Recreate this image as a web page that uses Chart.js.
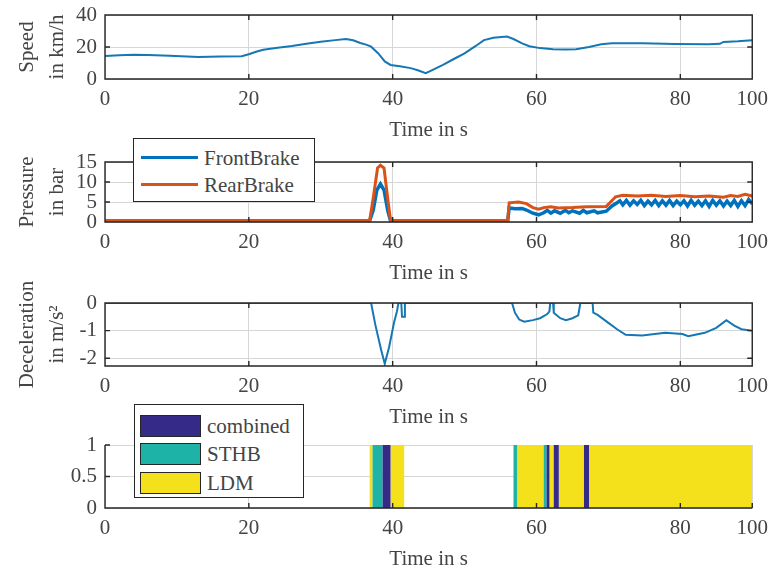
<!DOCTYPE html>
<html>
<head>
<meta charset="utf-8">
<script src="https://cdn.jsdelivr.net/npm/chart.js@4.4.1/dist/chart.umd.min.js"></script>
<style>
  body { margin: 0; background: #fff; width: 776px; height: 574px; position: relative; overflow: hidden; font-family: 'Liberation Serif', serif; }
  canvas { position: absolute; left: 0; }
  .legend { position: absolute; background: #fff; border: 1px solid #262626; box-sizing: border-box; font-size: 21px; color: #444; z-index: 5; }
  .legend .row { position: absolute; left: 0; height: 26px; line-height: 26px; white-space: nowrap; }
  .legend .line { position: absolute; top: 11px; height: 3px; }
  .legend .swatch { position: absolute; top: 2px; height: 22px; box-sizing: border-box; border: 1.5px solid #262626; }
  .legend .txt { position: absolute; top: 0; }
</style>
</head>
<body>
<canvas id="speedChart"></canvas>
<canvas id="pressureChart"></canvas>
<canvas id="decelChart"></canvas>
<canvas id="modeChart"></canvas>
<div id="pressureLegend" class="legend"></div>
<div id="modeLegend" class="legend"></div>
<script>
// time axis (plot ends at the tick labelled 100)
const timeTicks = [0, 20, 40, 60, 80, 90];
const timeTickLabels = ['0', '20', '40', '60', '80', '100'];

// speed in km/h
const speedTime = [0, 2, 4, 6, 9, 13, 16, 19, 20, 21, 22, 24, 26, 28, 30, 32, 33.5, 34.5, 35.5, 36.3, 37, 38, 38.9, 39.7, 41, 42.5, 43.5, 44.6, 45.5, 47, 48.5, 50, 51.5, 52.7, 54, 55.9, 56.8, 58, 59, 60.5, 62.3, 64, 65.5, 67.3, 69, 70.5, 74.7, 79.3, 83.9, 85.5, 86, 88, 90];
const speedValues = [14.3, 14.8, 15.2, 15, 14.6, 13.8, 14, 14.2, 15.5, 17, 18.3, 19.5, 20.6, 22, 23.3, 24.3, 25, 24.2, 22.5, 21.5, 20.2, 16, 11, 8.8, 8, 6.8, 5.5, 3.6, 5.5, 8.8, 12.5, 16, 20.5, 24.3, 25.8, 26.5, 25, 22.3, 20.5, 19.3, 18.6, 18.4, 18.6, 20, 21.7, 22.4, 22.3, 21.8, 21.7, 22, 23.2, 23.6, 24.2];

// brake pressure in bar
const pressureLabels = ['FrontBrake', 'RearBrake'];
const frontTime = [0, 36.8, 37.3, 37.8, 38.3, 38.8, 39.3, 39.7, 56, 56.2, 57, 58, 58.6, 59.5, 60.3, 61, 61.5, 62, 62.5, 63.3, 64, 64.5, 65, 66, 66.5, 67, 68, 68.5, 69.7, 70.5, 71.2, 71.6, 72, 72.5, 73, 73.5, 74, 74.5, 75, 75.5, 76, 76.5, 77, 77.5, 78, 78.5, 79, 79.5, 80, 80.5, 81, 81.5, 82, 82.5, 83, 83.5, 84, 84.5, 85, 85.5, 86, 86.5, 87, 87.5, 88, 88.5, 89, 89.5, 90];
const frontValues = [0.3, 0.3, 3, 8, 9.5, 8, 3, 0.3, 0.3, 3.5, 3.3, 3.4, 3, 2.2, 1.8, 2.3, 2.9, 2.2, 2.8, 2.2, 2.9, 2.3, 2.8, 2.2, 2.9, 2.3, 2.8, 2.3, 2.7, 4, 4.8, 5.3, 4.3, 5.4, 4.2, 5.3, 4.4, 5.4, 4.1, 5.2, 4.3, 5.4, 4.1, 5.3, 4.2, 5.4, 4.1, 5.2, 4.3, 5.3, 4, 5.4, 4.2, 5.2, 4.1, 5.3, 3.9, 5.4, 4.2, 5.3, 4, 5.2, 4.1, 5.4, 3.9, 5.3, 4.1, 5.6, 4.5];
const rearTime = [0, 36.8, 37.3, 37.9, 38.3, 38.8, 39.3, 39.7, 56, 56.2, 57.5, 58.6, 59.5, 60.3, 61, 62, 63, 65, 67, 69.7, 70.3, 71, 72, 74, 76, 78, 80, 82, 84, 86, 87, 88, 89, 90];
const rearValues = [0.4, 0.4, 6, 13.5, 14.2, 13.5, 6, 0.4, 0.4, 4.8, 5, 4.6, 3.6, 3.2, 3.6, 3.8, 3.5, 3.6, 3.8, 3.9, 5, 6.3, 6.7, 6.5, 6.7, 6.4, 6.6, 6.3, 6.5, 6.2, 6.6, 6.4, 6.9, 6.5];

// deceleration in m/s^2
const decelTime = [0, 37, 37.6, 38.4, 38.9, 39.5, 40.2, 40.6, 40.8, 41.2, 41.3, 41.6, 41.7, 56.6, 57, 57.6, 58.3, 59.5, 60.5, 61.5, 61.8, 61.9, 62.3, 62.4, 63.3, 64.1, 65, 65.8, 66.1, 67.8, 67.9, 68.5, 70, 71.2, 72.4, 74.7, 77.9, 80.3, 81.1, 83.4, 85, 86.4, 87.5, 88.5, 90];
const decelValues = [0, 0, -0.8, -1.7, -2.2, -1.6, -0.7, -0.3, 0, 0, -0.5, -0.5, 0, 0, -0.35, -0.6, -0.68, -0.62, -0.55, -0.4, -0.3, 0, 0, -0.35, -0.55, -0.62, -0.55, -0.45, 0, 0, -0.35, -0.43, -0.72, -0.95, -1.15, -1.18, -1.08, -1.12, -1.2, -1.08, -0.9, -0.62, -0.82, -0.95, -1.0];

// active mode intervals [start, end] in s
const modeLabels = ['combined', 'STHB', 'LDM'];
const combinedIntervals = [[38.6, 39.7], [61.4, 61.8], [62.4, 63.1], [66.6, 67.3]];
const sthbIntervals = [[37.2, 38.6], [56.8, 57.3], [61.0, 61.4]];
const ldmIntervals = [[36.8, 37.2], [39.7, 41.6], [57.3, 61.0], [61.8, 62.4], [63.1, 66.6], [67.3, 90]];

const speedTicks = [0, 20, 40];
const pressureTicks = [0, 5, 10, 15];
const decelTicks = [-2, -1, 0];
const modeTicks = [0, 0.5, 1];

const lineBlue = '#1577b3';
const frontColor = '#0072BD';
const rearColor = '#D95319';
const modeColors = ['#352A87', '#1DB3A6', '#F4E11B'];
const textColor = '#444444';
const gridColor = '#d6d6d6';
const axisFont = { family: "'Liberation Serif', serif", size: 21 };

const toPoints = (xs, ys) => xs.map((x, i) => ({ x: x, y: ys[i] }));
const toSteps = intervals => {
  const pts = [{ x: 0, y: 0 }];
  intervals.forEach(([s, e]) => { pts.push({ x: s, y: 1 }); pts.push({ x: e, y: 0 }); });
  pts.push({ x: 90, y: 0 });
  return pts;
};

// MATLAB-like box with inward ticks
const matlabBox = {
  id: 'matlabBox',
  afterDraw(chart, args, opts) {
    const { ctx, chartArea: a, scales } = chart;
    ctx.save();
    ctx.strokeStyle = '#262626';
    ctx.lineWidth = 1.4;
    ctx.beginPath();
    if (opts.full) {
      ctx.rect(a.left, a.top, a.width, a.height);
    } else {
      ctx.moveTo(a.left, a.top);
      ctx.lineTo(a.left, a.bottom);
      ctx.lineTo(a.right, a.bottom);
    }
    scales.x.ticks.forEach(t => {
      const px = scales.x.getPixelForValue(t.value);
      ctx.moveTo(px, a.bottom); ctx.lineTo(px, a.bottom - 5);
      if (opts.full) { ctx.moveTo(px, a.top); ctx.lineTo(px, a.top + 5); }
    });
    scales.y.ticks.forEach(t => {
      const py = scales.y.getPixelForValue(t.value);
      ctx.moveTo(a.left, py); ctx.lineTo(a.left + 5, py);
      if (opts.full) { ctx.moveTo(a.right, py); ctx.lineTo(a.right - 5, py); }
    });
    ctx.stroke();
    ctx.restore();
  }
};

function timeAxis(z) {
  return {
    type: 'linear', min: 0, max: 90, z: z,
    afterBuildTicks: s => { s.ticks = timeTicks.map(v => ({ value: v })); },
    afterFit: s => { s.height = 64; },
    grid: { color: gridColor, drawTicks: false },
    border: { display: false },
    ticks: { padding: 8, color: textColor, font: axisFont, maxRotation: 0, autoSkip: false,
             callback: (v, i) => timeTickLabels[i] },
    title: { display: true, text: 'Time in s', color: textColor, font: axisFont, padding: { top: 0, bottom: 0 } }
  };
}

function valueAxis(min, max, ticks, title, z) {
  return {
    min: min, max: max, z: z,
    afterBuildTicks: s => { s.ticks = ticks.map(v => ({ value: v })); },
    afterFit: s => { s.width = 105; },
    grid: { color: gridColor, drawTicks: false },
    border: { display: false },
    ticks: { padding: 8, color: textColor, font: axisFont, autoSkip: false, callback: v => String(v) },
    title: { display: !!title, text: title || '', color: textColor,
             font: Object.assign({}, axisFont, { lineHeight: 1.43 }), padding: { top: 12, bottom: 0 } }
  };
}

function makePanel(id, plotTop, plotBottom, datasets, yAxis, full, z) {
  const cv = document.getElementById(id);
  const h = plotBottom - plotTop + 40 + 64;
  cv.width = 776; cv.height = h;
  cv.style.top = (plotTop - 40) + 'px';
  cv.style.width = '776px'; cv.style.height = h + 'px';
  return new Chart(cv, {
    type: 'line',
    data: { datasets: datasets },
    options: {
      responsive: false,
      animation: false,
      layout: { padding: { top: 40, left: 0, right: 21, bottom: 0 } },
      elements: { point: { radius: 0 }, line: { tension: 0 } },
      plugins: { legend: { display: false }, tooltip: { enabled: false }, matlabBox: { full: full } },
      scales: { x: timeAxis(z), y: yAxis }
    },
    plugins: [matlabBox]
  });
}

makePanel('speedChart', 15, 79, [
  { data: toPoints(speedTime, speedValues), borderColor: lineBlue, borderWidth: 2 }
], valueAxis(0, 40, speedTicks, ['Speed', 'in km/h'], 0), true, 0);

makePanel('pressureChart', 162, 222, [
  { label: pressureLabels[0], data: toPoints(frontTime, frontValues), borderColor: frontColor, borderWidth: 3.5, order: 2 },
  { label: pressureLabels[1], data: toPoints(rearTime, rearValues), borderColor: rearColor, borderWidth: 3, order: 1 }
], valueAxis(0, 15, pressureTicks, ['Pressure', 'in bar'], 0), true, 0);

makePanel('decelChart', 303, 366, [
  { data: toPoints(decelTime, decelValues), borderColor: lineBlue, borderWidth: 2 }
], valueAxis(-2.28, 0, decelTicks, ['Deceleration', 'in m/s²'], 0), true, 0);

makePanel('modeChart', 445, 508, [
  { label: modeLabels[0], data: toSteps(combinedIntervals), stepped: true, fill: 'origin', borderWidth: 0, backgroundColor: modeColors[0], borderColor: modeColors[0] },
  { label: modeLabels[1], data: toSteps(sthbIntervals), stepped: true, fill: 'origin', borderWidth: 0, backgroundColor: modeColors[1], borderColor: modeColors[1] },
  { label: modeLabels[2], data: toSteps(ldmIntervals), stepped: true, fill: 'origin', borderWidth: 0, backgroundColor: modeColors[2], borderColor: modeColors[2] }
], valueAxis(0, 1, modeTicks, null, 1), false, 1);

// legends
function buildLegend(el, box, labels, colors, kind, rowTops) {
  el.style.left = box[0] + 'px'; el.style.top = box[1] + 'px';
  el.style.width = box[2] + 'px'; el.style.height = box[3] + 'px';
  labels.forEach((lab, i) => {
    const row = document.createElement('div');
    row.className = 'row';
    row.style.top = rowTops[i] + 'px';
    row.style.width = box[2] + 'px';
    const mark = document.createElement('div');
    if (kind === 'line') {
      mark.className = 'line'; mark.style.left = '7px'; mark.style.width = '57px';
    } else {
      mark.className = 'swatch'; mark.style.left = '5px'; mark.style.width = '61px';
    }
    mark.style.background = colors[i];
    const txt = document.createElement('span');
    txt.className = 'txt';
    txt.style.left = (kind === 'line' ? 70 : 72) + 'px';
    txt.textContent = lab;
    row.appendChild(mark); row.appendChild(txt);
    el.appendChild(row);
  });
}
buildLegend(document.getElementById('pressureLegend'), [133, 138, 182, 64], pressureLabels, [frontColor, rearColor], 'line', [6, 33]);
buildLegend(document.getElementById('modeLegend'), [134, 404, 170, 94], modeLabels, modeColors, 'swatch', [8, 36, 65]);
</script>
</body>
</html>
